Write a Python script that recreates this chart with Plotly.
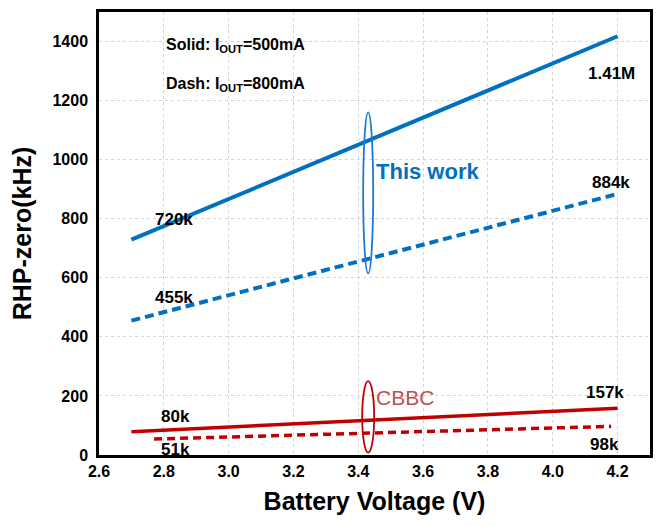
import plotly.graph_objects as go

# Data
v_this = [2.70, 4.20]
this_500 = [729, 1418]
this_800 = [455, 884]
v_cbbc_solid = [2.70, 4.20]
cbbc_500 = [79, 158]
v_cbbc_dash = [2.77, 4.18]
cbbc_800 = [54, 97]

x_ticks = [2.6, 2.8, 3.0, 3.2, 3.4, 3.6, 3.8, 4.0, 4.2]
y_ticks = [0, 200, 400, 600, 800, 1000, 1200, 1400]

BLUE = "#0070C0"
RED = "#C00000"
FONT = "Liberation Sans, Arial, sans-serif"

fig = go.Figure()
fig.add_trace(go.Scatter(x=v_this, y=this_500, mode="lines",
                         line=dict(color=BLUE, width=4)))
fig.add_trace(go.Scatter(x=v_this, y=this_800, mode="lines",
                         line=dict(color=BLUE, width=4, dash="9px,5px")))
fig.add_trace(go.Scatter(x=v_cbbc_solid, y=cbbc_500, mode="lines",
                         line=dict(color=RED, width=3.5)))
fig.add_trace(go.Scatter(x=v_cbbc_dash, y=cbbc_800, mode="lines",
                         line=dict(color=RED, width=3.5, dash="8px,5px")))

# ellipses
fig.add_shape(type="circle", xref="x", yref="y", x0=3.415, x1=3.446, y0=615, y1=1160,
              line=dict(color="#1a7ad4", width=1.8))
fig.add_shape(type="circle", xref="x", yref="y", x0=3.412, x1=3.449, y0=8, y1=250,
              line=dict(color=RED, width=1.8))

def ann(x, y, text, size=17, color="black", bold=True, xanchor="center"):
    t = f"<b>{text}</b>" if bold else text
    fig.add_annotation(x=x, y=y, xref="x", yref="y", text=t, showarrow=False,
                       xanchor=xanchor, yanchor="middle",
                       font=dict(family=FONT, size=size, color=color))

ann(2.8, 1387, "Solid: I<sub>OUT</sub>=500mA", size=16, xanchor="left")
ann(2.8, 1255, "Dash: I<sub>OUT</sub>=800mA", size=16, xanchor="left")
ann(2.83, 797, "720k")
ann(4.18, 1292, "1.41M")
ann(3.615, 960, "This work", size=22, color=BLUE)
ann(4.18, 922, "884k")
ann(2.83, 533, "455k")
ann(2.835, 132, "80k")
ann(2.835, 20, "51k")
ann(3.545, 196, "CBBC", size=21, color="#C0504D", bold=False)
ann(4.16, 213, "157k")
ann(4.16, 37, "98k")

fig.update_layout(
    width=668, height=526,
    margin=dict(l=99, r=18, t=9, b=71),
    paper_bgcolor="white", plot_bgcolor="white",
    showlegend=False,
    font=dict(family=FONT, color="black"),
    xaxis=dict(range=[2.6, 4.3], tickvals=x_ticks,
               ticktext=[f"<b>{v:.1f}</b>" for v in x_ticks],
               tickfont=dict(size=16), showgrid=True,
               gridcolor="#d4d4d4", griddash="3px,3px", gridwidth=1,
               showline=True, linecolor="black", linewidth=2.5, mirror=True,
               ticks="", zeroline=False,
               title=dict(text="<b>Battery Voltage (V)</b>", font=dict(size=25), standoff=14)),
    yaxis=dict(range=[0, 1500], tickvals=y_ticks,
               ticktext=[f"<b>{v}</b>" for v in y_ticks],
               tickfont=dict(size=16), showgrid=True,
               gridcolor="#d4d4d4", griddash="3px,3px", gridwidth=1,
               showline=True, linecolor="black", linewidth=2.5, mirror=True,
               ticks="", zeroline=False, ticklabelstandoff=5,
               title=dict(text="<b>RHP-zero(kHz)</b>", font=dict(size=25), standoff=14)),
)

fig.write_html("out.html")
